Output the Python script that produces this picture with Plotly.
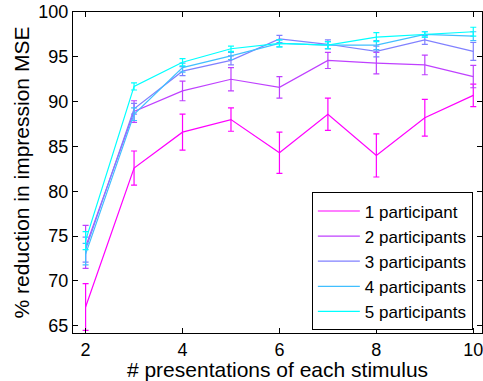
import plotly.graph_objects as go

x_vals = [2, 3, 4, 5, 6, 7, 8, 9, 10]
series_names = ["1 participant", "2 participants", "3 participants", "4 participants", "5 participants"]

s1_mean = [67.1, 82.6, 86.6, 88.0, 84.3, 88.6, 84.0, 88.2, 90.7]
s1_err = [2.6, 1.9, 2.0, 1.3, 2.3, 1.8, 2.4, 2.05, 1.25]
s2_mean = [73.8, 88.9, 91.2, 92.5, 91.6, 94.6, 94.3, 94.1, 92.8]
s2_err = [2.4, 1.2, 1.1, 1.3, 1.2, 0.9, 1.2, 1.1, 1.25]
s3_mean = [73.5, 89.2, 93.4, 94.6, 97.0, 96.4, 95.6, 96.9, 95.6]
s3_err = [1.4, 0.6, 0.5, 0.5, 0.4, 0.5, 0.6, 0.5, 1.0]
s4_mean = [73.0, 88.6, 93.8, 95.1, 96.5, 96.3, 96.3, 97.5, 97.3]
s4_err = [1.2, 0.7, 0.5, 0.4, 0.4, 0.4, 0.5, 0.3, 0.5]
s5_mean = [74.5, 91.7, 94.4, 95.9, 96.5, 96.3, 97.2, 97.5, 97.8]
s5_err = [1.0, 0.4, 0.4, 0.3, 0.4, 0.4, 0.5, 0.3, 0.5]

y_ticks = [65, 70, 75, 80, 85, 90, 95, 100]
x_ticks = [2, 4, 6, 8, 10]

colors = ["rgb(255,0,255)", "rgb(191,64,255)", "rgb(128,128,255)", "rgb(64,191,255)", "rgb(0,255,255)"]
means = [s1_mean, s2_mean, s3_mean, s4_mean, s5_mean]
errs = [s1_err, s2_err, s3_err, s4_err, s5_err]

FONT = "Liberation Sans, Arial, sans-serif"

fig = go.Figure()
for name, m, e, c in zip(series_names, means, errs, colors):
    fig.add_trace(go.Scatter(
        x=x_vals, y=m, name=name, mode="lines",
        line=dict(color=c, width=1.2),
        error_y=dict(type="data", array=e, visible=True, color=c, thickness=1.2, width=3),
    ))

axis_common = dict(
    showline=True, linecolor="black", linewidth=1, mirror="ticks",
    ticks="inside", ticklen=5, tickcolor="black", showgrid=False, zeroline=False,
    tickfont=dict(family=FONT, size=18, color="black"),
    automargin=False, ticklabeloverflow="allow",
)

fig.update_layout(
    width=483, height=381,
    margin=dict(l=73, r=1, t=12, b=48),
    paper_bgcolor="white", plot_bgcolor="white",
    font=dict(family=FONT, size=18, color="black"),
    xaxis=dict(range=[1.74, 10.18], tickvals=x_ticks,
               title=dict(text="# presentations of each stimulus", font=dict(family=FONT, size=21), standoff=2),
               **axis_common),
    yaxis=dict(range=[64.2, 100], tickvals=y_ticks,
               title=dict(text="% reduction in impression MSE", font=dict(family=FONT, size=21), standoff=3),
               **axis_common),
    legend=dict(x=0.584, y=0.008, xanchor="left", yanchor="bottom",
                bordercolor="black", borderwidth=1, bgcolor="white",
                font=dict(family=FONT, size=17), tracegroupgap=0,
                itemwidth=42),
    showlegend=True,
)

fig.write_html("out.html", config={"displayModeBar": False},
               post_script="document.body.style.margin='0';document.body.style.padding='0';document.body.style.overflow='hidden';")
